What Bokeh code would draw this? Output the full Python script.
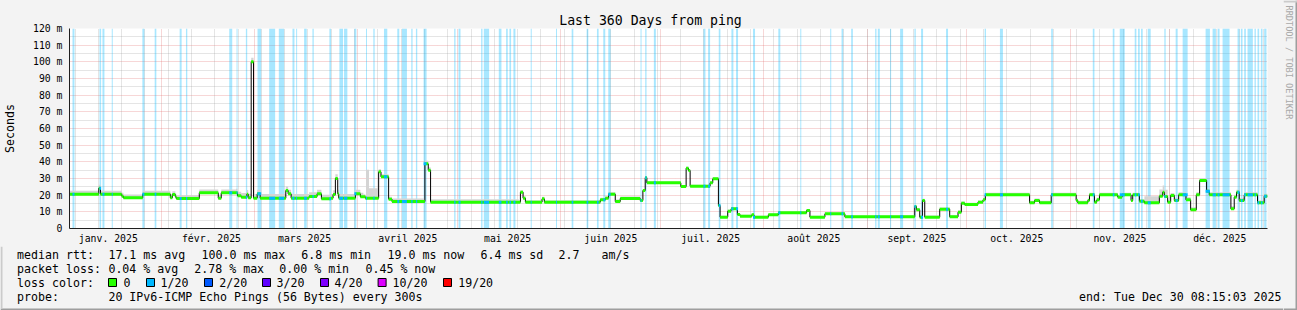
import numpy as np
from datetime import datetime, timedelta
from bokeh.plotting import figure
from bokeh.layouts import row, column
from bokeh.models import Range1d, FixedTicker, Grid
from bokeh.core.properties import value
from bokeh.embed import file_html
from bokeh.resources import INLINE

# ---------------- data ----------------
END = datetime(2025, 12, 30, 8, 15, 3)
SPAN_DAYS = 360
START = END - timedelta(days=SPAN_DAYS)

month_names = ["janv.", "févr.", "mars", "avril", "mai", "juin",
               "juil.", "août", "sept.", "oct.", "nov.", "déc."]

# median rtt (ms): step change points, days since START
med_day = [0.0, 8.8, 9.3, 15.7, 16.2, 22.0, 30.3, 30.9, 31.8, 32.1, 39.0, 44.7, 45.6, 50.5, 51.6,
           53.3, 53.7, 54.6, 55.3, 56.4, 57.3, 65.0, 65.7, 66.6, 72.0, 74.4, 75.7, 78.4, 79.2, 79.9,
           80.6, 80.9, 85.9, 87.4, 88.9, 92.9, 93.6, 95.9, 96.9, 106.8, 107.8, 108.5, 135.5, 136.3,
           137.0, 142.0, 142.7, 159.5, 161.0, 162.0, 164.0, 165.5, 171.5, 172.3, 173.0, 173.5, 183.7,
           185.3, 186.0, 186.5, 192.5, 193.3, 195.0, 195.5, 197.8, 198.8, 200.7, 201.5, 205.0, 205.7,
           210.0, 213.0, 221.5, 222.5, 227.0, 233.0, 254.0, 254.5, 255.5, 256.3, 257.0, 261.5, 264.5,
           267.0, 268.0, 269.0, 273.0, 274.5, 275.2, 288.5, 290.0, 291.5, 295.0, 302.5, 303.0, 306.0,
           306.5, 308.0, 308.7, 309.5, 315.0, 316.3, 319.0, 319.5, 321.5, 323.0, 327.5, 328.5, 329.0,
           330.0, 330.9, 332.0, 333.3, 335.5, 336.9, 338.6, 339.6, 341.7, 342.5, 349.0, 350.0, 350.7,
           351.5, 353.0, 357.0, 359.0]
med_ms = [20.6, 24.2, 20.6, 19.4, 18.4, 20.6, 18.4, 20.4, 19.0, 18.0, 21.4, 18.2, 21.4, 19.6, 18.8,
          20.6, 18.4, 100.0, 18.2, 20.8, 18.2, 22.8, 20.8, 18.2, 19.2, 20.8, 17.8, 18.2, 20.4, 30.0,
          20.8, 18.2, 20.8, 19.0, 18.2, 34.0, 31.0, 17.6, 16.2, 38.8, 35.0, 15.8, 21.8, 18.2,
          15.8, 17.8, 15.8, 17.2, 18.2, 20.6, 16.2, 18.0, 16.8, 22.8, 30.5, 27.4, 25.2,
          36.2, 34.8, 25.4, 27.4, 29.8, 13.8, 6.8, 10.4, 11.8, 8.4, 7.4, 8.2, 6.8,
          8.2, 9.4, 10.8, 6.8, 8.8, 7.0, 13.2, 11.2, 6.8, 16.8, 6.8, 11.6, 7.0,
          9.8, 15.2, 14.4, 15.8, 17.2, 20.2, 15.4, 16.8, 15.4, 20.2, 16.8, 15.4, 16.8,
          20.2, 15.8, 17.2, 20.2, 18.8, 20.2, 16.8, 20.2, 16.4, 15.4, 19.4, 21.8, 19.2,
          15.8, 19.8, 16.8, 20.2, 17.2, 11.2, 20.2, 28.8, 22.4, 20.2, 11.8, 18.8, 21.8,
          16.8, 20.2, 15.4, 19.4]

# smoke (spread of the pings above the median, ms)
smoke_day = [0.0, 50.0, 88.3, 89.1, 90.0, 92.9, 96.9, 135.0, 172.0, 250.0, 275.0, 323.0, 330.0]
smoke_spread = [2.0, 2.5, 1.5, 17.0, 6.0, 1.5, 1.8, 1.2, 0.8, 1.0, 1.2, 4.0, 1.5]

# periods with packet loss (days since START)
loss_start = [0.9, 9.0, 9.9, 12.7, 21.9, 25.6, 33.1, 35.0, 48.0, 50.2, 53.0, 56.5, 60.0, 62.9, 67.0,
              68.1, 70.5, 73.0, 78.1, 81.1, 82.5, 85.6, 89.1, 91.3, 94.5, 98.5, 99.9, 102.7, 104.1,
              106.4, 115.6, 116.9, 123.7, 124.5, 129.0, 131.2, 132.2, 133.4, 138.6, 146.2, 150.9,
              155.4, 158.5, 160.4, 161.9, 171.6, 173.0, 175.6, 190.5, 191.9, 195.1, 198.9, 200.3,
              205.4, 213.0, 219.6, 228.6, 232.0, 234.9, 242.1, 242.9, 246.6, 249.6, 253.9, 255.9,
              263.4, 275.0, 279.6, 295.0, 307.5, 313.5, 315.6, 320.1, 321.1, 322.0, 324.0, 329.0,
              332.4, 334.5, 341.4, 343.5, 345.0, 346.5, 351.0, 352.0, 353.0, 354.0, 356.1, 357.0,
              358.0, 359.0]
loss_end = [1.5, 9.5, 10.5, 13.0, 22.5, 26.1, 33.7, 35.4, 48.9, 50.5, 53.4, 57.6, 61.8, 64.5, 67.6,
            68.4, 71.3, 73.4, 78.6, 82.2, 83.5, 86.2, 89.4, 91.7, 95.5, 99.1, 101.4, 103.1, 104.5,
            107.3, 116.0, 117.5, 124.1, 126.1, 129.8, 131.7, 132.7, 134.0, 138.9, 146.5, 151.4,
            155.9, 159.0, 161.0, 162.6, 171.9, 173.4, 176.2, 191.1, 192.5, 195.6, 199.5, 200.9,
            206.0, 213.6, 219.9, 228.9, 232.5, 235.4, 242.5, 243.5, 246.9, 250.5, 254.3, 256.5,
            264.0, 275.4, 280.5, 295.5, 308.0, 314.0, 317.1, 320.6, 321.6, 322.5, 324.9, 329.4,
            333.0, 336.0, 342.7, 344.5, 345.6, 348.6, 351.6, 352.5, 353.5, 355.6, 356.5, 357.5,
            358.5, 359.7]

rtt_stats = ["17.1 ms avg", "100.0 ms max", "6.8 ms min", "19.0 ms now", "6.4 ms sd", "2.7", "am/s"]
loss_stats = ["0.04 % avg", "2.78 % max", "0.00 % min", "0.45 % now"]
loss_levels = ["0", "1/20", "2/20", "3/20", "4/20", "10/20", "19/20"]
loss_colors = ["#26ff00", "#00b8ff", "#0059ff", "#5e00ff", "#7e00ff", "#dd00ff", "#ff0000"]
row_heads = ["median rtt:", "packet loss:", "loss color:", "probe:"]
probe_text = "20 IPv6-ICMP Echo Pings (56 Bytes) every 300s"
end_text = "end: Tue Dec 30 08:15:03 2025"
credit_text = "RRDTOOL / TOBI OETIKER"

# ---------------- layout constants ----------------
def day(dt):
    return round((dt - START).total_seconds() / 86400.0, 3)

W_MAIN, W_SIDE = 1283, 14
H_TOP, H_BOT = 246, 64
FL, FR, FT, FB = 67, 1267, 28, 228          # plot frame in page pixels
MONO = "DejaVu Sans Mono"
BG = "#f3f3f3"

month_starts = [day(datetime(2025, m, 1)) for m in range(2, 13)]
month_mid = [day(datetime(2025, m, 1) + timedelta(days=15)) for m in range(1, 13)]
mondays = []
d = datetime(2025, 1, 6)
while d < END:
    mondays.append(day(d))
    d += timedelta(days=7)

# ---------------- main chart ----------------
p = figure(width=W_MAIN, height=H_TOP, x_range=Range1d(0, SPAN_DAYS), y_range=Range1d(0, 120),
           output_backend="svg", toolbar_location=None,
           min_border_left=FL, min_border_right=W_MAIN - FR, min_border_top=FT, min_border_bottom=H_TOP - FB,
           background_fill_color="white", border_fill_color=BG, outline_line_color=None)
p.frame_align = False

p.title.text = "Last 360 Days from ping"
p.title.align = "left"
p.title.offset = 556.7 - FL
p.title.standoff = 2
p.title.text_font = MONO
p.title.text_font_size = "13.2px"
p.title.text_font_style = "normal"
p.title.text_color = "#000000"

p.yaxis.ticker = FixedTicker(ticks=list(range(0, 121, 10)))
p.yaxis.major_label_overrides = {v: ("0" if v == 0 else f"{v} m") for v in range(0, 121, 10)}
p.yaxis.axis_label = "Seconds"
p.yaxis.axis_label_text_font = MONO
p.yaxis.axis_label_text_font_size = "11.6px"
p.yaxis.axis_label_text_font_style = "normal"
p.yaxis.axis_label_text_color = "#000000"
p.yaxis.axis_label_standoff = 13
p.yaxis.major_label_standoff = 7
p.xaxis.ticker = FixedTicker(ticks=month_mid)
p.xaxis.major_label_overrides = {t: f"{n} 2025" for t, n in zip(month_mid, month_names)}
p.xaxis.major_label_standoff = 4
for ax in (p.xaxis, p.yaxis):
    ax.major_tick_in = 0
    ax.major_tick_out = 0
    ax.minor_tick_in = 0
    ax.minor_tick_out = 0
    ax.axis_line_color = "#1f1f1f"
    ax.major_label_text_font = MONO
    ax.major_label_text_font_size = "9.8px"
    ax.major_label_text_color = "#000000"

p.xgrid.ticker = FixedTicker(ticks=month_starts)
p.ygrid.ticker = FixedTicker(ticks=list(range(10, 121, 10)))
for g in (p.xgrid, p.ygrid):
    g.grid_line_color = "#e06060"
    g.grid_line_alpha = 0.5
    g.grid_line_dash = "1 1"
p.add_layout(Grid(dimension=0, ticker=FixedTicker(ticks=mondays), grid_line_color="#9a9a9a",
                  grid_line_alpha=0.5, grid_line_dash="1 1"))
p.add_layout(Grid(dimension=1, ticker=FixedTicker(ticks=list(range(5, 120, 10))), grid_line_color="#9a9a9a",
                  grid_line_alpha=0.5, grid_line_dash="1 1"))

# loss bars
p.quad(left=loss_start, right=loss_end, bottom=0, top=120, fill_color=loss_colors[1], fill_alpha=0.34,
       line_color=None)

# smoke
edges = sorted(set(med_day + smoke_day))
rights = edges[1:] + [SPAN_DAYS]
med_arr = np.array(med_ms)
med_at = med_arr[np.searchsorted(med_day, edges, side="right") - 1]
spr_at = np.array(smoke_spread)[np.searchsorted(smoke_day, edges, side="right") - 1]
p.quad(left=edges, right=rights, bottom=med_at - 0.5, top=med_at + spr_at, fill_color="#d4d4d4",
       line_color=None)

# median
p.step(x=med_day + [SPAN_DAYS], y=med_ms + [med_ms[-1]], mode="after", line_color="#000000", line_width=1)
seg_end = med_day[1:] + [SPAN_DAYS]
p.segment(x0=med_day, y0=med_ms, x1=seg_end, y1=med_ms, line_color=loss_colors[0], line_width=3)
mids = (np.array(loss_start) + np.array(loss_end)) / 2
loss_med = med_arr[np.searchsorted(med_day, mids, side="right") - 1]
p.segment(x0=loss_start, y0=loss_med, x1=loss_end, y1=loss_med, line_color=loss_colors[1], line_width=3)

# ---------------- legend block (pixel coordinates) ----------------
def blank(w, h, xr, yr):
    f = figure(width=w, height=h, x_range=xr, y_range=yr, output_backend="svg", toolbar_location=None,
               title=None, x_axis_type=None, y_axis_type=None,
               min_border=0, min_border_left=0, min_border_right=0, min_border_top=0, min_border_bottom=0,
               background_fill_color=BG, border_fill_color=BG, outline_line_color=None)
    f.frame_align = False
    f.xgrid.visible = False
    f.ygrid.visible = False
    return f

leg = blank(W_MAIN, H_BOT, Range1d(0, W_MAIN), Range1d(H_TOP + H_BOT, H_TOP))

ROW_Y = [254, 268, 282, 296]
COL0, COL1 = 16.6, 107.9
txt_x, txt_y, txt = [], [], []
for h, y in zip(row_heads, ROW_Y):
    txt_x.append(COL0); txt_y.append(y); txt.append(h)
for t, x in zip(rtt_stats, [COL1, 201, 300.8, 387, 480, 558, 601]):
    txt_x.append(x); txt_y.append(ROW_Y[0]); txt.append(t)
for t, x in zip(loss_stats, [COL1, 193.8, 278.8, 365]):
    txt_x.append(x); txt_y.append(ROW_Y[1]); txt.append(t)
sw_x = [108, 146, 204, 262, 320, 377.6, 443]
for t, x in zip(loss_levels, [123, 160, 218.7, 276, 334, 392, 457.7]):
    txt_x.append(x); txt_y.append(ROW_Y[2]); txt.append(t)
txt_x.append(COL1); txt_y.append(ROW_Y[3]); txt.append(probe_text)

leg.text(x=txt_x, y=txt_y, text=txt, text_font=value(MONO), text_font_size=value("11.6px"),
         text_color="#000000", text_baseline="middle", text_align="left")
leg.text(x=[1281], y=[ROW_Y[3]], text=[end_text], text_font=value(MONO), text_font_size=value("11.6px"),
         text_color="#000000", text_baseline="middle", text_align="right")
leg.quad(left=sw_x, right=[x + 8 for x in sw_x], top=[278] * len(sw_x), bottom=[286] * len(sw_x),
         fill_color=loss_colors, line_color="#000000", line_width=1)
# frame shading
leg.quad(left=[0], right=[W_MAIN], top=[308], bottom=[310], fill_color="#9e9e9e", line_color=None)
leg.quad(left=[0], right=[2], top=[H_TOP], bottom=[308], fill_color="#cbcbcb", line_color=None)

# ---------------- right credit strip ----------------
side = blank(W_SIDE, H_TOP + H_BOT, Range1d(W_MAIN, W_MAIN + W_SIDE), Range1d(H_TOP + H_BOT, 0))
side.text(x=[1288.5], y=[5], text=[credit_text], angle=-np.pi / 2, text_font=value(MONO),
          text_font_size=value("8.6px"), text_color="#a9a9a9", text_baseline="middle", text_align="left")
side.quad(left=[1295], right=[1297], top=[0], bottom=[310], fill_color="#9e9e9e", line_color=None)
side.quad(left=[W_MAIN], right=[1297], top=[308], bottom=[310], fill_color="#9e9e9e", line_color=None)
side.quad(left=[W_MAIN], right=[1297], top=[0], bottom=[2], fill_color="#cbcbcb", line_color=None)

layout = row(column(p, leg, spacing=0, styles={"background-color": BG}), side, spacing=0,
             styles={"background-color": BG})

open("out.html", "w").write(file_html(layout, INLINE))
